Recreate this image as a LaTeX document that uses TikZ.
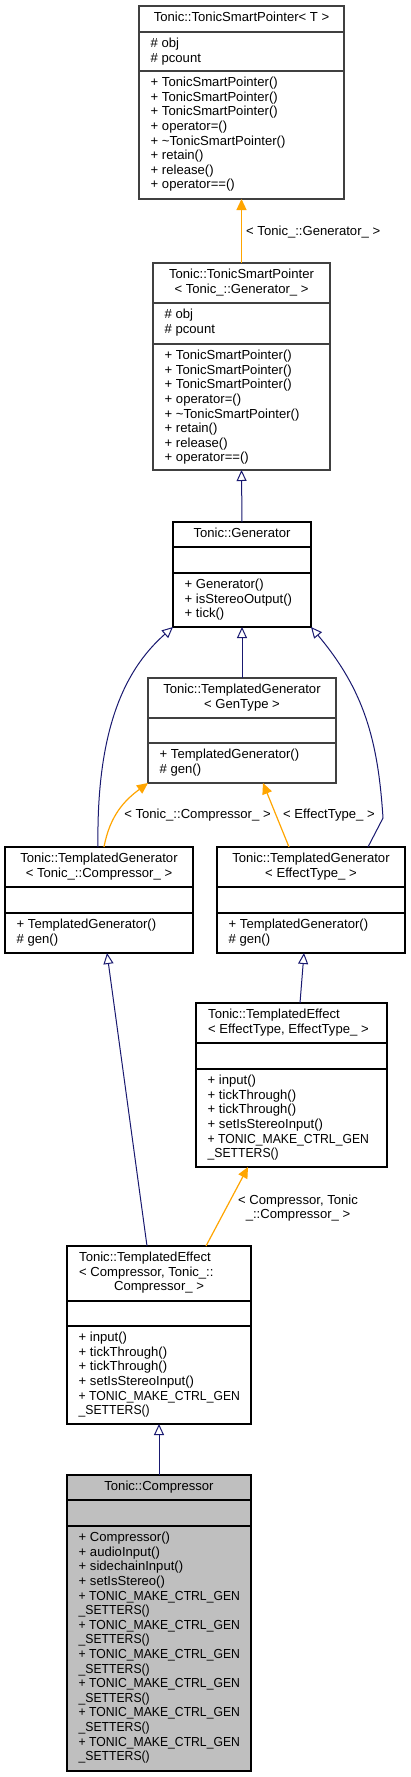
\documentclass[tikz,border=0pt]{standalone}
\usepackage{fontspec}
\usepackage{graphicx}
\setmainfont{Liberation Sans}
\usetikzlibrary{arrows.meta}
\definecolor{navy}{HTML}{191970}
\definecolor{tplorange}{HTML}{FFA500}
\definecolor{boxgrey}{HTML}{404040}
\definecolor{focusfill}{HTML}{BFBFBF}
\newcommand\umlfont{\fontsize{13.1}{14.6}\selectfont}
\newcommand\cz[1]{\scalebox{0.93}[1]{#1}}
\newcommand\tmcg{\strut\cz{+ TONIC\_MAKE\_CTRL\_GEN}\\\strut\cz{\_SETTERS()}}
\newcommand\umlbox[9]{%
  \node[cls=#2, fill=#3, minimum width={#6-#4}, minimum height={#7-#5}] (#1) at (#4,#5) {};
  \draw[sep=#2] (#4,#8) -- (#6,#8);
  \draw[sep=#2] (#4,#9) -- (#6,#9);
}
\begin{document}
\begin{tikzpicture}[x=1pt,y=-1pt,
  cls/.style={draw=#1, line width=1.1pt, inner sep=0pt, outer sep=0pt, anchor=north west},
  sep/.style={draw=#1, line width=1.1pt},
  txt/.style={inner sep=0pt, anchor=north west, align=left, font=\umlfont},
  ttl/.style={inner sep=0pt, anchor=north, align=center, font=\umlfont},
  lbl/.style={inner sep=0pt, font=\umlfont},
  inh/.style={draw=navy, line width=1pt, -{Triangle[length=11pt,width=10pt,fill=white]}},
  tpl/.style={draw=tplorange, line width=1.2pt, -{Triangle[length=11pt,width=10pt]}},
]
\fill[white] (0,0) rectangle (411,1777);
\useasboundingbox (0,0) rectangle (411,1777);

% boxes
\umlbox{tsp}{boxgrey}{white}{139}{6}{344}{199}{32}{71}
\umlbox{tspg}{boxgrey}{white}{153}{263}{330}{470}{303}{344}
\umlbox{gen}{black}{white}{173}{522}{311}{627}{547}{573}
\umlbox{tgg}{boxgrey}{white}{148}{678}{336}{783}{718}{743}
\umlbox{tgc}{black}{white}{5}{847}{193}{953}{887}{913}
\umlbox{tge}{black}{white}{217}{847}{405}{953}{887}{913}
\umlbox{te}{black}{white}{196}{1003}{387}{1167}{1043}{1069}
\umlbox{tec}{black}{white}{67}{1246}{251}{1424}{1301}{1326}
\umlbox{comp}{black}{focusfill}{67}{1475}{251}{1771}{1500}{1526}

% texts
\node[ttl] (tsp-t) at (241.5,11.3) {\strut Tonic::TonicSmartPointer< T >};
\node[txt] (tsp-a) at (150.5,37.3) {\strut\# obj\\\strut\# pcount};
\node[txt] (tsp-m) at (150.5,76.3) {\strut+ TonicSmartPointer()\\\strut+ TonicSmartPointer()\\\strut+ TonicSmartPointer()\\\strut+ operator=()\\\strut+ \textasciitilde TonicSmartPointer()\\\strut+ retain()\\\strut+ release()\\\strut+ operator==()};

\node[ttl] (tspg-t) at (241.5,268.3) {\strut Tonic::TonicSmartPointer\\\strut< Tonic\_::Generator\_ >};
\node[txt] (tspg-a) at (164.5,308.3) {\strut\# obj\\\strut\# pcount};
\node[txt] (tspg-m) at (164.5,349.3) {\strut+ TonicSmartPointer()\\\strut+ TonicSmartPointer()\\\strut+ TonicSmartPointer()\\\strut+ operator=()\\\strut+ \textasciitilde TonicSmartPointer()\\\strut+ retain()\\\strut+ release()\\\strut+ operator==()};

\node[ttl] (gen-t) at (242,527.3) {\strut Tonic::Generator};
\node[txt] (gen-m) at (184.5,578.3) {\strut+ Generator()\\\strut+ isStereoOutput()\\\strut+ tick()};

\node[ttl] (tgg-t) at (242,683.3) {\strut Tonic::TemplatedGenerator\\\strut< GenType >};
\node[txt] (tgg-m) at (159.5,748.3) {\strut+ TemplatedGenerator()\\\strut\# gen()};

\node[ttl] (tgc-t) at (99,852.3) {\strut Tonic::TemplatedGenerator\\\strut< Tonic\_::Compressor\_ >};
\node[txt] (tgc-m) at (16.5,918.3) {\strut+ TemplatedGenerator()\\\strut\# gen()};

\node[ttl] (tge-t) at (311,852.3) {\strut Tonic::TemplatedGenerator\\\strut< EffectType\_ >};
\node[txt] (tge-m) at (228.5,918.3) {\strut+ TemplatedGenerator()\\\strut\# gen()};

\node[txt] (te-t) at (208,1008.3) {\strut Tonic::TemplatedEffect\\\strut< EffectType, EffectType\_ >};
\node[txt] (te-m) at (207.5,1074.3) {\strut+ input()\\\strut+ tickThrough()\\\strut+ tickThrough()\\\strut+ setIsStereoInput()\\\tmcg};

\node[txt] (tec-t) at (79,1251.3) {\strut Tonic::TemplatedEffect\\\strut< Compressor, Tonic\_::};
\node[ttl] (tec-t2) at (159,1280.5) {\strut Compressor\_ >};
\node[txt] (tec-m) at (78.5,1331.3) {\strut+ input()\\\strut+ tickThrough()\\\strut+ tickThrough()\\\strut+ setIsStereoInput()\\\tmcg};

\node[ttl] (comp-t) at (159,1480.3) {\strut Tonic::Compressor};
\node[txt] (comp-m) at (78.5,1531.3) {\strut+ Compressor()\\\strut+ audioInput()\\\strut+ sidechainInput()\\\strut+ setIsStereo()\\\tmcg\\\tmcg\\\tmcg\\\tmcg\\\tmcg\\\tmcg};

% connectors
\draw[tpl] (tspg.north) -- (tsp.south);
\node[lbl, anchor=base west] (l1) at (246,235.7) {< Tonic\_::Generator\_ >};
\draw[inh] (gen.north) -- (tspg.south);
\draw[inh] (tgg.north) -- (gen.south);
\draw[inh] ([xshift=93pt]tgc.north west) .. controls (96,720) and (130,665) .. (gen.south west);
\coordinate (bend) at (383,818);
\draw[inh] ([xshift=151pt]tge.north west) -- (bend) .. controls (378,740) and (364,690) .. (gen.south east);
\draw[tpl] ([xshift=99pt]tgc.north west) .. controls (110,815) and (125,800) .. (tgg.south west);
\node[lbl, anchor=base] (l2) at (197.5,818.7) {< Tonic\_::Compressor\_ >};
\draw[tpl] ([xshift=72pt]tge.north west) -- ([xshift=115pt]tgg.south west);
\node[lbl, anchor=base west] (l3) at (283,818.7) {< EffectType\_ >};
\draw[inh] ([xshift=104pt]te.north west) -- ([xshift=87pt]tge.south west);
\draw[inh] ([xshift=80pt]tec.north west) -- ([xshift=102pt]tgc.south west);
\draw[tpl] ([xshift=139pt]tec.north west) -- ([xshift=52pt]te.south west);
\node[lbl, anchor=north, align=center] (l4) at (298,1193.8) {\strut< Compressor, Tonic\\\strut\_::Compressor\_ >};
\draw[inh] (comp.north) -- (tec.south);
\end{tikzpicture}
\end{document}
